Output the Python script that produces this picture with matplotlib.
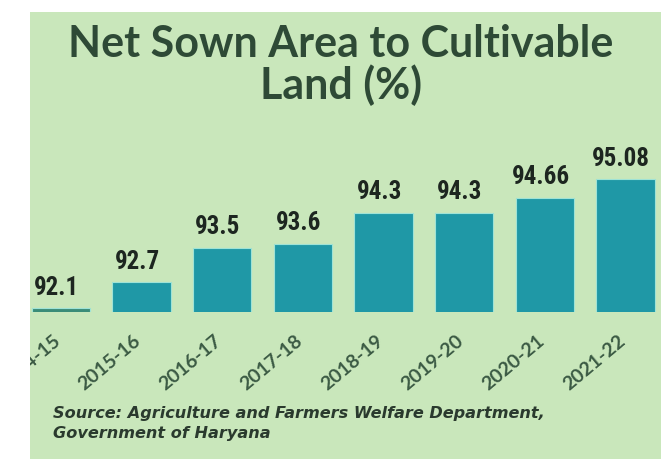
import matplotlib
matplotlib.use("Agg")
import matplotlib.pyplot as plt
from matplotlib.patches import Rectangle
from matplotlib.transforms import ScaledTranslation
from matplotlib import font_manager

years = ["2014-15", "2015-16", "2016-17", "2017-18", "2018-19", "2019-20", "2020-21", "2021-22"]
values = [92.1, 92.7, 93.5, 93.6, 94.3, 94.3, 94.66, 95.08]
value_labels = ["92.1", "92.7", "93.5", "93.6", "94.3", "94.3", "94.66", "95.08"]
title_lines = ["Net Sown Area to Cultivable", "Land (%)"]
source_lines = ["Source: Agriculture and Farmers Welfare Department,", "Government of Haryana"]

available = {f.name for f in font_manager.fontManager.ttflist}
def pick(*names):
    for n in names:
        if n in available:
            return n
    return "DejaVu Sans"

narrow = pick("Liberation Sans Narrow", "DejaVu Sans Condensed", "Roboto Condensed", "Lato")
title_font = pick("Lato", "Open Sans")
tick_font = pick("Lato", "Open Sans")

W, H = 661, 459
bg = "#c9e7bb"
bar_color = "#1f98a6"
text_dark = "#2e4a36"

fig = plt.figure(figsize=(W / 100, H / 100), dpi=100)
fig.patch.set_facecolor("white")
fig.patches.append(Rectangle((30 / W, 0), 1 - 30 / W, 1 - 12 / H, transform=fig.transFigure,
                             facecolor=bg, edgecolor="none", zorder=-10))

ax = fig.add_axes([30 / W, 147.5 / H, 631 / W, 161.5 / H])
ax.patch.set_alpha(0)
for s in ax.spines.values():
    s.set_visible(False)

colors = ["#3a8c78"] + [bar_color] * (len(values) - 1)
bars = ax.bar(range(len(values)), values, width=0.72, color=colors,
              edgecolor="#9fe3d6", linewidth=0.8)
ax.set_xlim(-0.382, 7.44)
ax.set_ylim(92.03, 95.76)
ax.set_yticks([])

for i, (v, lab) in enumerate(zip(values, value_labels)):
    ax.annotate(lab, (i, v), xytext=(-3, 10), textcoords="offset points",
                ha="center", va="baseline", fontsize=18, fontweight="bold",
                family=narrow, color="#1d2620")

ax.set_xticks(range(len(years)))
ax.set_xticklabels(years, rotation=40, ha="right", va="top", rotation_mode="anchor",
                   fontsize=14, fontweight="bold", family=tick_font, color="#3b5a44")
ax.tick_params(axis="x", length=0, pad=15)
shift = ScaledTranslation(-6 / 72, 0, fig.dpi_scale_trans)
for t in ax.get_xticklabels():
    t.set_transform(t.get_transform() + shift)

fig.text(341 / W, 1 - 57 / H, title_lines[0], ha="center", va="baseline",
         fontsize=31, fontweight="bold", family=title_font, color=text_dark)
fig.text(341 / W, 1 - 99 / H, title_lines[1], ha="center", va="baseline",
         fontsize=31, fontweight="bold", family=title_font, color=text_dark)

fig.text(53 / W, 1 - 418 / H, source_lines[0], ha="left", va="baseline",
         fontsize=11.6, style="italic", fontweight="bold", family="DejaVu Sans", color="#2a3a2e")
fig.text(53 / W, 1 - 438 / H, source_lines[1], ha="left", va="baseline",
         fontsize=11.6, style="italic", fontweight="bold", family="DejaVu Sans", color="#2a3a2e")

# white margins of the cropped original
fig.patches.append(Rectangle((0, 0), 30 / W, 1, transform=fig.transFigure,
                             facecolor="white", edgecolor="none", zorder=100))
fig.patches.append(Rectangle((0, 1 - 12 / H), 1, 12 / H, transform=fig.transFigure,
                             facecolor="white", edgecolor="none", zorder=100))

fig.savefig("out.png", dpi=100)
